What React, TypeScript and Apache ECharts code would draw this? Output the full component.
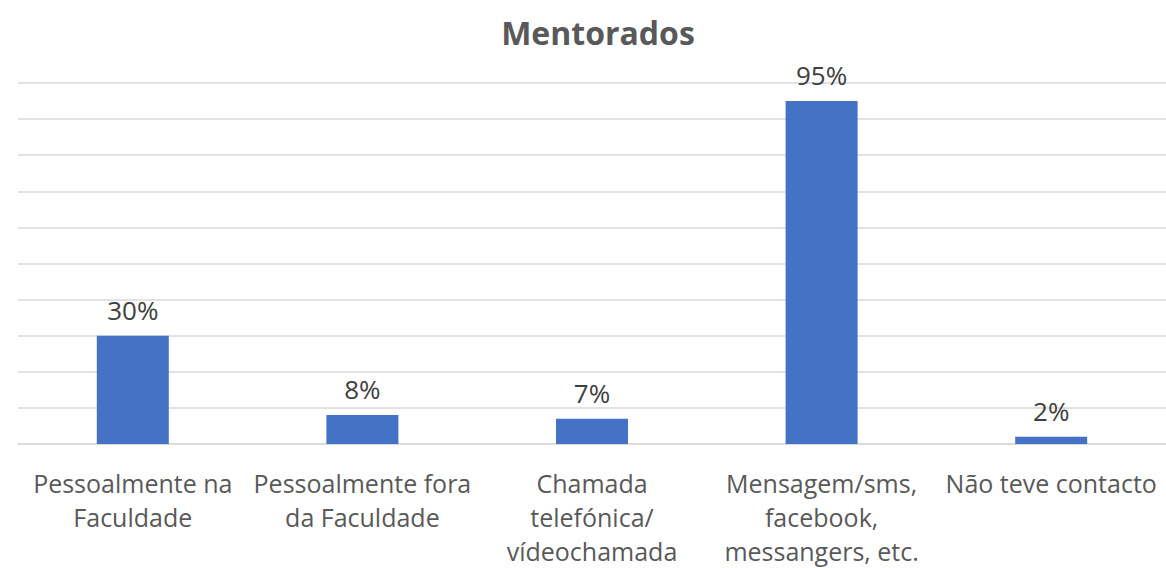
import React, { useEffect, useRef } from "react";
import * as echarts from "echarts";

const categories = [
  "Pessoalmente na\nFaculdade",
  "Pessoalmente fora\nda Faculdade",
  "Chamada\ntelefónica/\nvídeochamada",
  "Mensagem/sms,\nfacebook,\nmessangers, etc.",
  "Não teve contacto",
];
const values = [30, 8, 7, 95, 2];
const title = "Mentorados";

export default function App() {
  const ref = useRef<HTMLDivElement>(null);
  useEffect(() => {
    if (!ref.current) return;
    const chart = echarts.init(ref.current, null, { renderer: "svg" });
    const font = "'Open Sans', 'Noto Sans', sans-serif";
    chart.setOption({
      animation: false,
      title: {
        text: title,
        left: 593,
        textAlign: "center",
        top: 11,
        textStyle: { fontFamily: font, fontSize: 32, fontWeight: "bold", color: "#595959" },
      },
      grid: { left: 18, right: 0, top: 83, bottom: 121, containLabel: false },
      xAxis: {
        type: "category",
        data: categories,
        axisTick: { show: false },
        axisLine: { lineStyle: { color: "#d9d9d9", width: 1.5 } },
        axisLabel: {
          interval: 0,
          margin: 22,
          fontFamily: font,
          fontSize: 25,
          lineHeight: 34,
          color: "#595959",
        },
      },
      yAxis: {
        type: "value",
        min: 0,
        max: 100,
        interval: 10,
        axisLabel: { show: false },
        axisLine: { show: false },
        axisTick: { show: false },
        splitLine: { lineStyle: { color: "#d9d9d9", width: 1.5 } },
      },
      series: [
        {
          type: "bar",
          data: values,
          barWidth: 72,
          itemStyle: { color: "#4472C4" },
          label: {
            show: true,
            position: "top",
            distance: 13,
            formatter: "{c}%",
            fontFamily: font,
            fontSize: 26,
            color: "#404040",
          },
        },
      ],
    });
    return () => chart.dispose();
  }, []);
  return (
    <div
      ref={ref}
      style={{ position: "absolute", left: 0, top: 0, width: 1166, height: 568, background: "#fff" }}
    />
  );
}
